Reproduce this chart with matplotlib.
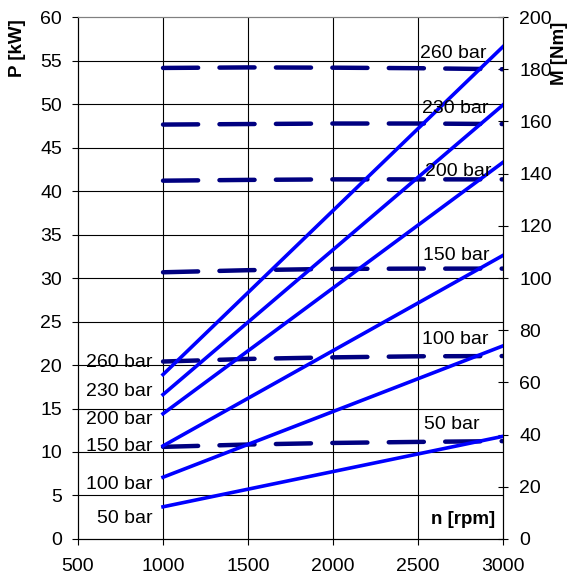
import matplotlib
matplotlib.use("Agg")
import matplotlib.pyplot as plt

plt.rcParams["font.family"] = ["Liberation Sans", "DejaVu Sans"]

# speed points (rpm)
n_ends = [1000, 3000]
n_pts = [1000, 1500, 2000, 2500, 3000]

pressures = ["260 bar", "230 bar", "200 bar", "150 bar", "100 bar", "50 bar"]

# power [kW] at 1000 and 3000 rpm
power_260 = [18.9, 56.6]
power_230 = [16.6, 49.9]
power_200 = [14.4, 43.3]
power_150 = [10.7, 32.6]
power_100 = [7.1, 22.2]
power_50 = [3.7, 11.8]
power = [power_260, power_230, power_200, power_150, power_100, power_50]

# torque [Nm]
torque_260 = [180.5, 180.7, 180.6, 180.4, 180.0]
torque_230 = [158.8, 159.0, 159.2, 159.2, 159.0]
torque_200 = [137.3, 137.6, 137.8, 137.8, 137.8]
torque_150 = [102.2, 103.0, 103.5, 103.6, 103.6]
torque_100 = [68.0, 69.0, 69.6, 70.0, 70.1]
torque_50 = [35.3, 36.2, 36.8, 37.2, 37.5]
torque = [torque_260, torque_230, torque_200, torque_150, torque_100, torque_50]

# label positions (left: right aligned, right: left aligned)
left_label_y = [20.3, 17.0, 13.7, 10.6, 6.3, 2.4]
right_label_x = [2510, 2525, 2540, 2530, 2525, 2535]
right_label_y = [55.8, 49.5, 42.2, 32.6, 22.9, 13.2]

fig = plt.figure(figsize=(5.72, 5.78), dpi=100)
ax = fig.add_axes([0.1364, 0.0675, 0.743, 0.903])
ax2 = ax.twinx()

ax.set_xlim(500, 3000)
ax.set_ylim(0, 60)
ax2.set_ylim(0, 200)

# grid
for yv in range(5, 60, 5):
    ax2.axhline(yv * 200 / 60, color="black", linewidth=0.8, zorder=0)
for xv in range(1000, 3000, 500):
    ax2.axvline(xv, color="black", linewidth=0.8, zorder=0)

for t in torque:
    ax2.plot(n_pts, t, color="#000080", linewidth=3.2, dashes=(7.9, 4.8),
             dash_capstyle="round", zorder=2)

ax.set_zorder(ax2.get_zorder() + 1)
ax.patch.set_visible(False)

for p in power:
    ax.plot(n_ends, p, color="#0000FF", linewidth=2.6, zorder=3)

for lab, y in zip(pressures, left_label_y):
    ax.text(940, y, lab, ha="right", va="center", fontsize=14)
for lab, x, y in zip(pressures, right_label_x, right_label_y):
    ax.text(x, y, lab, ha="left", va="center", fontsize=14)

ax.text(2955, 2.2, "n [rpm]", ha="right", va="center", fontsize=13.5,
        fontweight="bold")

ax.set_xticks(range(500, 3001, 500))
ax.set_yticks(range(0, 61, 5))
ax2.set_yticks(range(0, 201, 20))
ax.tick_params(axis="both", labelsize=14, width=0.8, color="black")
ax.tick_params(axis="y", direction="out", length=4.5, pad=7)
ax.tick_params(axis="x", direction="out", length=4.5, pad=9)
ax2.tick_params(axis="y", direction="inout", length=7.5, width=0.8,
                labelsize=14, pad=8)

for a in (ax, ax2):
    for s in a.spines.values():
        s.set_linewidth(0.8)
    a.spines["top"].set_color("#808080")

fig.text(0.03, 0.917, "P [kW]", rotation=90, ha="center", va="center",
         fontsize=13.5, fontweight="bold")
fig.text(0.978, 0.853, "M [Nm]", rotation=90, ha="center", va="bottom",
         fontsize=13.5, fontweight="bold")

fig.savefig("out.png", dpi=100)
